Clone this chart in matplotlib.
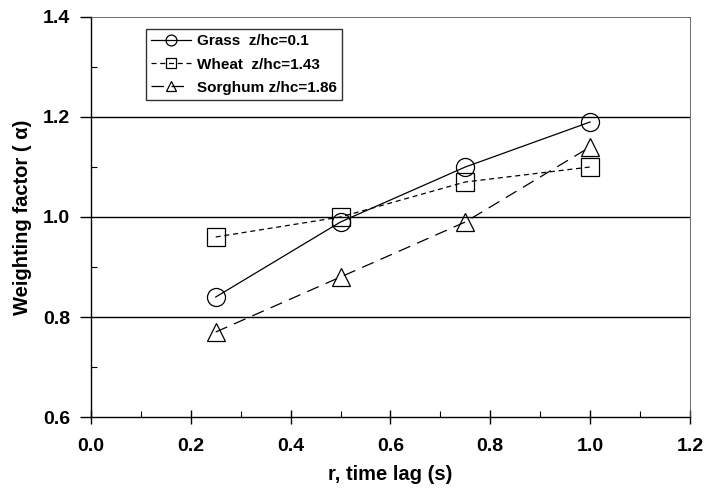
import matplotlib
matplotlib.use("Agg")
import matplotlib.pyplot as plt
from matplotlib.ticker import MultipleLocator

plt.rcParams['font.family'] = ['Liberation Sans', 'DejaVu Sans']
plt.rcParams['font.weight'] = 'bold'

time_lag = [0.25, 0.5, 0.75, 1.0]
grass = [0.84, 0.99, 1.10, 1.19]
wheat = [0.96, 1.00, 1.07, 1.10]
sorghum = [0.77, 0.88, 0.99, 1.14]

labels = ["Grass  z/hc=0.1", "Wheat  z/hc=1.43", "Sorghum z/hc=1.86"]

fig = plt.figure(figsize=(7.05, 4.91), dpi=100)
ax = fig.add_axes([0.129, 0.1507, 0.8496, 0.8147])

for y in (0.8, 1.0, 1.2):
    ax.axhline(y, color='black', lw=1.0, zorder=1)

ms = 13
ax.plot(time_lag, grass, '-', color='black', lw=0.9, marker='o', ms=ms,
        mfc='none', mec='black', mew=0.9, label=labels[0], zorder=3)
ax.plot(time_lag, wheat, color='black', lw=0.9, ls=(0, (4, 3)), marker='s', ms=ms,
        mfc='none', mec='black', mew=0.9, label=labels[1], zorder=3)
ax.plot(time_lag, sorghum, color='black', lw=0.9, ls=(0, (10, 6)), marker='^', ms=ms,
        mfc='none', mec='black', mew=0.9, label=labels[2], zorder=3)

ax.set_xlim(0, 1.2)
ax.set_ylim(0.6, 1.4)
ax.xaxis.set_major_locator(MultipleLocator(0.2))
ax.xaxis.set_minor_locator(MultipleLocator(0.1))
ax.yaxis.set_major_locator(MultipleLocator(0.2))
ax.yaxis.set_minor_locator(MultipleLocator(0.1))
ax.xaxis.set_major_formatter(plt.FuncFormatter(lambda v, p: f"{v:.1f}"))
ax.yaxis.set_major_formatter(plt.FuncFormatter(lambda v, p: f"{v:.1f}"))

ax.tick_params(axis='x', which='major', direction='inout', length=10, width=1, labelsize=14, pad=10)
ax.tick_params(axis='x', which='minor', direction='in', length=4, width=0.8)
ax.tick_params(axis='y', which='major', direction='out', length=8, width=1, labelsize=14, pad=7)
ax.tick_params(axis='y', which='minor', direction='in', length=4, width=0.8)

for side in ('left', 'bottom'):
    ax.spines[side].set_linewidth(1.0)
for side in ('top', 'right'):
    ax.spines[side].set_linewidth(0.6)
    ax.spines[side].set_color('#555555')

ax.set_xlabel("r, time lag (s)", fontsize=14.5, fontweight='bold', labelpad=7)
ax.set_ylabel("Weighting factor ( α)", fontsize=14.5, fontweight='bold', labelpad=8)

leg = ax.legend(loc='upper left', bbox_to_anchor=(0.092, 0.97), borderaxespad=0,
                fontsize=11, frameon=True, fancybox=False, edgecolor='black',
                markerscale=0.6, handlelength=2.6, borderpad=0.35, labelspacing=0.6,
                handletextpad=0.4)
leg.get_frame().set_linewidth(1.0)

fig.savefig("out.png", dpi=100)
